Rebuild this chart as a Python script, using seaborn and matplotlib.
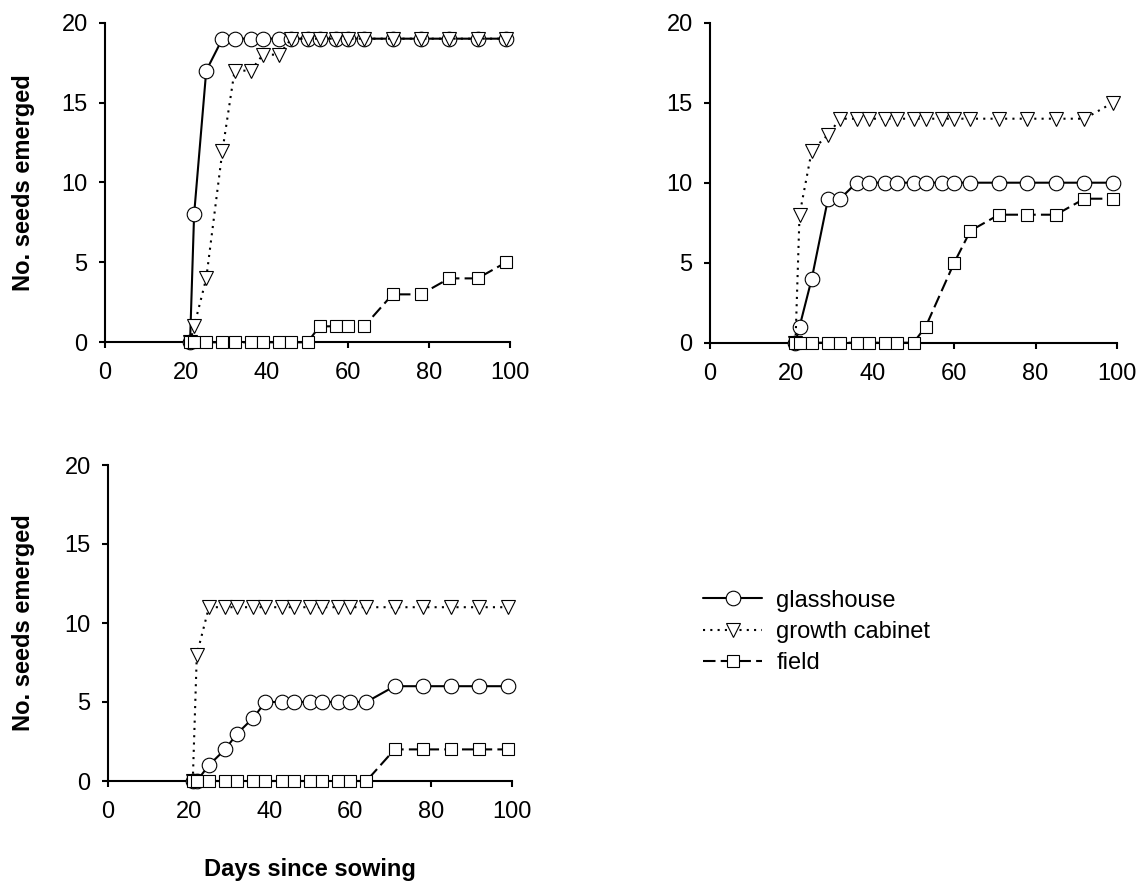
import matplotlib
matplotlib.use("Agg")
import matplotlib.pyplot as plt
import seaborn as sns

# observation days (twice weekly, then weekly)
days = [21, 22, 25, 29, 32, 36, 39, 43, 46, 50, 53, 57, 60, 64, 71, 78, 85, 92, 99]
days_field_b = [21, 22, 25, 29, 32, 36, 39, 43, 46, 50, 53, 60, 64, 71, 78, 85, 92, 99]

# panel A (top left)
glass_a = [0, 8, 17, 19, 19, 19, 19, 19, 19, 19, 19, 19, 19, 19, 19, 19, 19, 19, 19]
cab_a = [0, 1, 4, 12, 17, 17, 18, 18, 19, 19, 19, 19, 19, 19, 19, 19, 19, 19, 19]
field_a = [0, 0, 0, 0, 0, 0, 0, 0, 0, 0, 1, 1, 1, 1, 3, 3, 4, 4, 5]

# panel B (top right)
glass_b = [0, 1, 4, 9, 9, 10, 10, 10, 10, 10, 10, 10, 10, 10, 10, 10, 10, 10, 10]
cab_b = [0, 8, 12, 13, 14, 14, 14, 14, 14, 14, 14, 14, 14, 14, 14, 14, 14, 14, 15]
field_b = [0, 0, 0, 0, 0, 0, 0, 0, 0, 0, 1, 5, 7, 8, 8, 8, 9, 9]

# panel C (bottom left)
glass_c = [0, 0, 1, 2, 3, 4, 5, 5, 5, 5, 5, 5, 5, 5, 6, 6, 6, 6, 6]
cab_c = [0, 8, 11, 11, 11, 11, 11, 11, 11, 11, 11, 11, 11, 11, 11, 11, 11, 11, 11]
field_c = [0, 0, 0, 0, 0, 0, 0, 0, 0, 0, 0, 0, 0, 0, 2, 2, 2, 2, 2]

labels = ["glasshouse", "growth cabinet", "field"]

sns.set_style("ticks")
plt.rcParams["font.family"] = ["Liberation Sans", "DejaVu Sans"]
plt.rcParams["text.color"] = "black"
plt.rcParams["axes.labelcolor"] = "black"
plt.rcParams["axes.edgecolor"] = "black"
plt.rcParams["xtick.color"] = "black"
plt.rcParams["ytick.color"] = "black"

FS = 17
fig = plt.figure(figsize=(11.47, 8.85), dpi=100)
W, H = 1147, 885
ax_a = fig.add_axes([105 / W, 1 - 342.3 / H, 405 / W, 319.6 / H])
ax_b = fig.add_axes([710 / W, 1 - 342.7 / H, 407 / W, 320 / H])
ax_c = fig.add_axes([108 / W, 1 - 781 / H, 403.7 / W, 316 / H])

styles = [
    dict(marker="o", markersize=10.5, linestyle="-"),
    dict(marker="v", markersize=10, linestyle=(0, (1, 2.5))),
    dict(marker="s", markersize=9.3, linestyle=(0, (6, 2.5))),
]

panels = [
    (ax_a, [(days, glass_a), (days, cab_a), (days, field_a)]),
    (ax_b, [(days, glass_b), (days, cab_b), (days_field_b, field_b)]),
    (ax_c, [(days, glass_c), (days, cab_c), (days, field_c)]),
]

for ax, series in panels:
    for (x, y), st, lab in zip(series, styles, labels):
        sns.lineplot(x=x, y=y, ax=ax, color="black", lw=1.5,
                     markerfacecolor="white", markeredgecolor="black",
                     markeredgewidth=0.8, clip_on=False, zorder=3,
                     errorbar=None, label=lab, **st)
    if ax.get_legend() is not None:
        ax.get_legend().remove()
    ax.set_xlim(0, 100)
    ax.set_ylim(0, 20)
    ax.set_xticks([0, 20, 40, 60, 80, 100])
    ax.set_yticks([0, 5, 10, 15, 20])
    sns.despine(ax=ax)
    for s in ["left", "bottom"]:
        ax.spines[s].set_linewidth(1.5)
    ax.tick_params(axis="both", labelsize=FS, width=1.5, length=4.5,
                   color="black", labelcolor="black")
    ax.tick_params(axis="x", pad=10)
    ax.tick_params(axis="y", pad=8)

ax_a.set_ylabel("No. seeds emerged", fontsize=FS, fontweight="bold")
ax_c.set_ylabel("No. seeds emerged", fontsize=FS, fontweight="bold")
ax_a.yaxis.set_label_coords((35 - 105) / 405, 0.5)
ax_c.yaxis.set_label_coords((35 - 108) / 403.7, 0.5)
ax_c.set_xlabel("Days since sowing", fontsize=FS, fontweight="bold")
ax_c.xaxis.set_label_coords(0.5, (781 - 858) / 316)

handles, labs = ax_c.get_legend_handles_labels()
fig.legend(handles, labs, loc="center left", bbox_to_anchor=(703 / W, 1 - 632 / H),
           frameon=False, fontsize=FS, handlelength=2.5, handletextpad=0.6,
           labelspacing=0.4, borderpad=0, borderaxespad=0)

fig.savefig("out.png", dpi=100)
